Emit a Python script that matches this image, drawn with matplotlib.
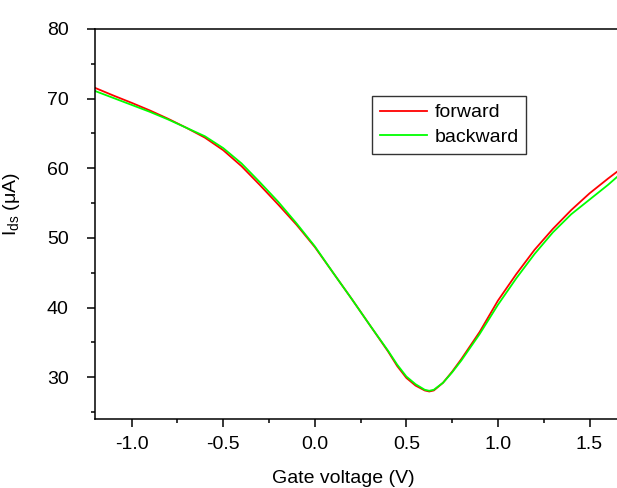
import matplotlib
matplotlib.use('Agg')
import matplotlib.pyplot as plt
from matplotlib.ticker import MultipleLocator

plt.rcParams['font.family'] = ['Liberation Sans', 'DejaVu Sans']
plt.rcParams['axes.unicode_minus'] = False

# gate voltage (V)
vg = [-1.2, -1.1, -1.0, -0.9, -0.8, -0.7, -0.6, -0.5, -0.4, -0.3, -0.2, -0.1,
      0.0, 0.1, 0.2, 0.3, 0.4, 0.45, 0.5, 0.55, 0.6, 0.625, 0.65, 0.7, 0.75,
      0.8, 0.9, 1.0, 1.1, 1.2, 1.3, 1.4, 1.5, 1.6, 1.65]

# Ids (uA), forward sweep
forward = [71.55, 70.45, 69.4, 68.3, 67.1, 65.8, 64.4, 62.6, 60.3, 57.6, 54.8, 51.9,
           48.7, 45.0, 41.3, 37.5, 33.7, 31.6, 29.9, 28.8, 28.1, 27.95, 28.1, 29.2, 30.8,
           32.6, 36.5, 41.0, 44.8, 48.3, 51.3, 54.0, 56.4, 58.5, 59.5]

# Ids (uA), backward sweep
backward = [71.1, 70.1, 69.1, 68.1, 67.0, 65.8, 64.6, 62.9, 60.7, 58.0, 55.2, 52.1,
            48.8, 45.0, 41.3, 37.5, 33.8, 31.8, 30.1, 29.0, 28.2, 28.05, 28.2, 29.2, 30.7,
            32.4, 36.2, 40.4, 44.2, 47.7, 50.8, 53.4, 55.5, 57.6, 58.75]

fig = plt.figure(figsize=(6.17, 4.88), dpi=100)
ax = fig.add_axes([95/617, 69/488, 522/617, 390/488])

ax.plot(vg, forward, color='#ff0000', lw=1.3, label='forward')
ax.plot(vg, backward, color='#00ff00', lw=1.3, label='backward')

ax.set_xlim(-1.2, 1.65)
ax.set_ylim(24, 80)
ax.xaxis.set_minor_locator(MultipleLocator(0.25))
ax.yaxis.set_minor_locator(MultipleLocator(5))
ax.set_yticks([30, 40, 50, 60, 70, 80])
ax.set_xticks([-1.0, -0.5, 0.0, 0.5, 1.0, 1.5])
ax.set_xticklabels(['-1.0', '-0.5', '0.0', '0.5', '1.0', '1.5'])

for s in ['left', 'bottom', 'top']:
    ax.spines[s].set_linewidth(1.1)
ax.spines['right'].set_visible(False)
ax.tick_params(which='major', direction='out', length=6, width=1.1, labelsize=14)
ax.tick_params(which='minor', direction='out', length=3, width=1.1)
ax.tick_params(axis='y', which='major', pad=13)
ax.tick_params(axis='x', which='major', pad=6)
ax.tick_params(top=False, which='both')

ax.set_xlabel('Gate voltage (V)', fontsize=14)
ax.set_ylabel(r'$\mathregular{I_{ds}}$ (μA)', fontsize=14)
ax.xaxis.set_label_coords(0.476, -0.131)
ax.yaxis.set_label_coords(-0.14, 0.55)

leg = ax.legend(loc='upper left', bbox_to_anchor=(0.531, 0.828), borderaxespad=0,
                fontsize=14, frameon=True, fancybox=False, framealpha=1,
                handlelength=2.4, handletextpad=0.4, borderpad=0.4, labelspacing=0.35)
leg.get_frame().set_edgecolor('#333333')
leg.get_frame().set_linewidth(1.0)

fig.savefig('out.png', dpi=100)
